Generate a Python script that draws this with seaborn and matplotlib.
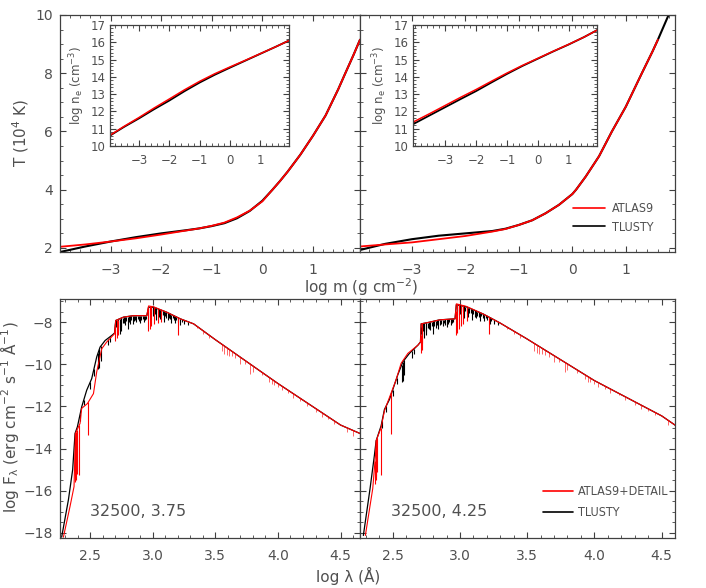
import matplotlib
matplotlib.use("Agg")
import matplotlib.pyplot as plt
import numpy as np
import pandas as pd
import seaborn as sns
from matplotlib.ticker import MultipleLocator, FixedLocator, FormatStrFormatter

# --- temperature structure, log g = 3.75 (left) ---
logm_l = [-4.0, -3.5, -3.0, -2.5, -2.0, -1.5, -1.25, -1.0, -0.75, -0.5, -0.25, 0.0, 0.2, 0.35, 0.5, 0.75,
          1.0, 1.25, 1.5, 1.64, 1.8, 1.93]
T_tl_l = [1.86, 2.05, 2.22, 2.37, 2.50, 2.61, 2.67, 2.75, 2.85, 3.02, 3.27, 3.62, 4.0, 4.3, 4.62, 5.2,
          5.85, 6.55, 7.45, 8.0, 8.62, 9.15]
T_at_l = [2.04, 2.12, 2.22, 2.33, 2.46, 2.60, 2.67, 2.76, 2.87, 3.05, 3.28, 3.60, 4.0, 4.3, 4.62, 5.2,
          5.85, 6.55, 7.45, 8.0, 8.62, 9.15]
# --- temperature structure, log g = 4.25 (right) ---
logm_r = [-3.97, -3.5, -3.0, -2.5, -2.0, -1.5, -1.25, -1.0, -0.75, -0.5, -0.25, 0.0, 0.07, 0.25, 0.5, 0.74,
          1.0, 1.3, 1.5, 1.6, 1.8, 1.92]
T_tl_r = [1.93, 2.14, 2.30, 2.42, 2.50, 2.58, 2.66, 2.79, 2.95, 3.19, 3.48, 3.85, 4.0, 4.45, 5.15, 6.0,
          6.85, 8.0, 8.75, 9.15, 10.0, 10.5]
T_at_r = [2.05, 2.12, 2.19, 2.30, 2.41, 2.56, 2.65, 2.79, 2.95, 3.19, 3.48, 3.85, 4.0, 4.45, 5.15, 6.0,
          6.85, 8.0, 8.75, 9.15]

# --- electron density insets ---
ne_m_l = [-3.96, -3.5, -3.0, -2.5, -2.0, -1.5, -1.0, -0.5, 0.0, 0.5, 1.0, 1.5, 1.95]
ne_tl_l = [10.6, 11.1, 11.6, 12.13, 12.63, 13.17, 13.67, 14.12, 14.53, 14.93, 15.33, 15.73, 16.1]
ne_at_l = [10.62, 11.13, 11.65, 12.2, 12.72, 13.25, 13.74, 14.18, 14.57, 14.95, 15.34, 15.73, 16.1]
ne_m_r = [-4.05, -3.5, -3.0, -2.5, -2.0, -1.5, -1.0, -0.5, 0.0, 0.5, 1.0, 1.5, 1.92]
ne_tl_r = [11.26, 11.78, 12.25, 12.72, 13.18, 13.68, 14.17, 14.63, 15.05, 15.47, 15.87, 16.3, 16.7]
ne_at_r = [11.38, 11.88, 12.35, 12.82, 13.27, 13.75, 14.22, 14.66, 15.07, 15.48, 15.88, 16.3, 16.7]

# --- SEDs, 32500 / 3.75 ---
wl_tl_l = [2.273, 2.327, 2.361, 2.38, 2.399, 2.433, 2.473, 2.513, 2.553, 2.58, 2.62, 2.673, 2.695, 2.705,
           2.767, 2.847, 2.953, 2.967, 3.007, 3.113, 3.22, 3.327, 3.5, 4.0, 4.5, 4.655]
fl_tl_l = [-18.2, -16.43, -15.0, -13.28, -12.96, -12.02, -11.23, -10.68, -9.65, -9.18, -8.87, -8.63, -8.52, -7.92,
           -7.76, -7.69, -7.69, -7.29, -7.29, -7.53, -7.84, -8.08, -8.83, -10.91, -12.88, -13.28]
wl_at_l = [2.287, 2.34, 2.372, 2.383, 2.42, 2.433, 2.479, 2.527, 2.553, 2.593, 2.633, 2.695, 2.705,
           2.767, 2.847, 2.953, 2.967, 3.007, 3.113, 3.22, 3.327, 3.5, 4.0, 4.5, 4.655]
fl_at_l = [-18.2, -16.74, -15.8, -13.28, -12.8, -12.09, -11.86, -11.39, -10.36, -9.26, -8.94, -8.55, -7.92,
           -7.76, -7.69, -7.69, -7.23, -7.27, -7.53, -7.84, -8.08, -8.83, -10.91, -12.88, -13.28]

# --- SEDs, 32500 / 4.25 ---
wl_tl_r = [2.281, 2.331, 2.363, 2.376, 2.413, 2.438, 2.475, 2.5, 2.537, 2.575, 2.624, 2.687, 2.706, 2.711,
           2.774, 2.848, 2.963, 2.973, 3.047, 3.172, 3.296, 3.495, 4.0, 4.502, 4.602]
fl_tl_r = [-18.12, -15.89, -14.33, -13.63, -12.92, -12.14, -11.67, -11.2, -10.5, -9.88, -9.48, -9.09, -8.94, -8.08,
           -8.0, -7.89, -7.84, -7.17, -7.27, -7.61, -8.03, -8.78, -10.77, -12.45, -12.89]
wl_at_r = [2.296, 2.351, 2.371, 2.376, 2.413, 2.438, 2.525, 2.562, 2.612, 2.687, 2.706, 2.711,
           2.774, 2.848, 2.963, 2.973, 3.047, 3.172, 3.296, 3.495, 4.0, 4.502, 4.602]
fl_at_r = [-18.12, -15.89, -14.33, -13.63, -13.0, -12.2, -10.73, -9.95, -9.48, -9.09, -8.94, -8.08,
           -8.0, -7.89, -7.84, -7.13, -7.25, -7.61, -8.03, -8.78, -10.77, -12.45, -12.89]

# absorption lines: position, bottom of line (log F)
lines_at_l_x = [2.383, 2.388, 2.392, 2.396, 2.414, 2.486, 2.702, 2.712, 2.722, 2.965, 2.975, 2.99, 3.01, 3.04, 3.07, 3.205]
lines_at_l_y = [-15.6, -15.5, -15.2, -15.0, -15.25, -13.36, -8.9, -8.75, -8.6, -8.4, -8.3, -8.2, -8.1, -8.05, -8.0, -8.6]
lines_at_r_x = [2.368, 2.373, 2.378, 2.383, 2.413, 2.488, 2.708, 2.714, 2.72, 2.968, 2.978, 2.99, 3.005, 3.02, 3.05, 3.216]
lines_at_r_y = [-15.66, -15.5, -15.3, -15.1, -15.27, -13.31, -9.48, -9.3, -9.0, -8.63, -8.5, -8.3, -8.2, -8.1, -7.95, -8.58]
# weak optical / IR lines in the ATLAS9+DETAIL spectra (depth in dex)
weak_x = [3.35, 3.40, 3.45, 3.55, 3.57, 3.59, 3.61, 3.63, 3.66, 3.70, 3.74, 3.78, 3.80, 3.87, 3.93, 3.95,
          3.97, 4.00, 4.03, 4.08, 4.12, 4.18, 4.23, 4.30, 4.35, 4.40, 4.45, 4.55, 4.60]
weak_d = [0.1, 0.15, 0.12, 0.35, 0.4, 0.35, 0.3, 0.25, 0.2, 0.3, 0.15, 0.45, 0.3, 0.15, 0.2, 0.25,
          0.2, 0.15, 0.2, 0.15, 0.2, 0.1, 0.15, 0.15, 0.2, 0.1, 0.15, 0.2, 0.25]
# TLUSTY line forest (position, depth in dex)
tl_lines_x = [2.42, 2.45, 2.50, 2.53, 2.565, 2.575, 2.585, 2.64, 2.66, 2.71, 2.72, 2.725, 2.735, 2.745, 2.75,
              2.76, 2.77, 2.78, 2.79, 2.80, 2.81, 2.82, 2.83, 2.84, 2.85, 2.86, 2.87, 2.88, 2.89, 2.90, 2.91,
              2.92, 2.93, 2.94, 2.95, 2.98, 2.99, 3.0, 3.01, 3.02, 3.03, 3.04, 3.05, 3.06, 3.07, 3.08, 3.09,
              3.10, 3.11, 3.12, 3.13, 3.14, 3.15, 3.16, 3.17, 3.18, 3.19, 3.20, 3.22, 3.23, 3.25, 3.28]
tl_lines_d = [0.3, 0.25, 0.3, 0.3, 0.8, 0.9, 0.7, 0.3, 0.25, 0.3, 0.5, 0.35, 0.7, 0.4, 0.6,
              0.25, 0.3, 0.4, 0.2, 0.6, 0.25, 0.35, 0.2, 0.4, 0.25, 0.2, 0.3, 0.15, 0.25, 0.35, 0.2,
              0.15, 0.3, 0.2, 0.15, 0.5, 0.3, 0.4, 0.25, 0.3, 0.55, 0.2, 0.35, 0.45, 0.25, 0.2, 0.5,
              0.2, 0.3, 0.35, 0.2, 0.25, 0.4, 0.15, 0.2, 0.3, 0.15, 0.2, 0.3, 0.15, 0.2, 0.15]

GREY = "#505050"
RED = "#ff0000"

sns.set_style("ticks")
plt.rcParams["font.family"] = ["DejaVu Sans"]
plt.rcParams.update({
    "text.color": GREY, "axes.labelcolor": GREY, "xtick.color": "#404040", "ytick.color": "#404040",
    "xtick.labelcolor": GREY, "ytick.labelcolor": GREY, "axes.edgecolor": "#404040",
    "axes.linewidth": 0.9, "font.size": 10, "mathtext.default": "regular",
})

fig = plt.figure(figsize=(7.06, 5.88), dpi=100)


def style(ax, xmaj, xmin, ymaj, ymin, size=10):
    if isinstance(xmaj, list):
        ax.xaxis.set_major_locator(FixedLocator(xmaj))
    else:
        ax.xaxis.set_major_locator(MultipleLocator(xmaj))
    ax.xaxis.set_minor_locator(MultipleLocator(xmin))
    ax.yaxis.set_major_locator(MultipleLocator(ymaj))
    ax.yaxis.set_minor_locator(MultipleLocator(ymin))
    ax.tick_params(which="both", direction="in", top=True, right=True, labelsize=size)
    ax.tick_params(which="major", length=4, width=0.8)
    ax.tick_params(axis="x", which="major", pad=8)
    ax.tick_params(axis="y", which="major", pad=5)
    ax.tick_params(which="minor", length=2, width=0.6)
    ax.set_xlabel("")
    ax.set_ylabel("")


def line(ax, x, y, color, lw):
    sns.lineplot(x=x, y=y, ax=ax, color=color, lw=lw, sort=False, estimator=None)


logm_ticks = [-3, -2, -1, 0, 1]
leg_font = {"family": "DejaVu Sans", "stretch": "condensed", "size": 9}

# top panels
ax_tl = fig.add_axes([0.085, 0.5714, 0.4249, 0.4031])
ax_tr = fig.add_axes([0.5099, 0.5714, 0.4462, 0.4031])
for ax, m, tl, at, xl in [(ax_tl, logm_l, T_tl_l, T_at_l, (-4.0, 1.93)),
                          (ax_tr, logm_r, T_tl_r, T_at_r, (-3.97, 1.92))]:
    line(ax, m, tl, "black", 1.5)
    line(ax, m[:len(at)], at, RED, 1.3)
    ax.set_xlim(*xl)
    ax.set_ylim(1.86, 10)
    style(ax, logm_ticks, 0.2, 2, 0.5)
ax_tr.tick_params(labelleft=False)

ax_tr.plot([], [], color=RED, lw=1.2, label="ATLAS9")
ax_tr.plot([], [], color="black", lw=1.2, label="TLUSTY")
ax_tr.legend(loc="upper left", bbox_to_anchor=(0.676, 0.21), frameon=False, borderpad=0, borderaxespad=0,
             handlelength=2.6, handletextpad=0.5, labelspacing=0.45, prop=leg_font, labelcolor=GREY)

# insets
in_l = fig.add_axes([0.1558, 0.7517, 0.2535, 0.2058])
in_r = fig.add_axes([0.585, 0.7517, 0.2606, 0.2058])
for ax, m, tl, at, xl in [(in_l, ne_m_l, ne_tl_l, ne_at_l, (-3.96, 1.95)),
                          (in_r, ne_m_r, ne_tl_r, ne_at_r, (-4.05, 1.92))]:
    line(ax, m, tl, "black", 1.3)
    line(ax, m, at, RED, 1.1)
    ax.set_xlim(*xl)
    ax.set_ylim(10, 17)
    style(ax, logm_ticks, 0.2, 1, 0.2, size=8.5)
    ax.tick_params(axis="x", which="major", pad=6)
    ax.tick_params(axis="y", which="major", pad=3)
    ax.set_ylabel("log n$_e$ (cm$^{-3}$)", fontsize=8.5, labelpad=3)

# SED panels
ax_bl = fig.add_axes([0.085, 0.085, 0.4249, 0.4065])
ax_br = fig.add_axes([0.5099, 0.085, 0.4462, 0.4065])
for ax, wt, ft, wa, fa, lx, ly, xr, lab in [
        (ax_bl, wl_tl_l, fl_tl_l, wl_at_l, fl_at_l, lines_at_l_x, lines_at_l_y, (2.26, 4.655), "32500, 3.75"),
        (ax_br, wl_tl_r, fl_tl_r, wl_at_r, fl_at_r, lines_at_r_x, lines_at_r_y, (2.256, 4.6), "32500, 4.25")]:
    tx = np.array(tl_lines_x)
    ttop = np.interp(tx, wt, ft)
    ax.vlines(tx, ttop - np.array(tl_lines_d), ttop, color="black", lw=0.8)
    line(ax, wt, ft, "black", 0.9)
    line(ax, wa, fa, RED, 0.8)
    ax.vlines(lx, ly, np.interp(lx, wa, fa), color=RED, lw=0.8)
    wx = np.array(weak_x)
    wtop = np.interp(wx, wa, fa)
    ax.vlines(wx, wtop - np.array(weak_d), wtop, color=RED, lw=0.7, alpha=0.6)
    ax.set_xlim(*xr)
    ax.set_ylim(-18.24, -6.9)
    style(ax, 0.5, 0.1, 2, 0.5)
    ax.xaxis.set_major_formatter(FormatStrFormatter("%.1f"))
    ax.text(0.1, 0.109, lab, transform=ax.transAxes, fontsize=11.5, color=GREY, va="center")
ax_br.tick_params(labelleft=False)

ax_br.plot([], [], color=RED, lw=1.2, label="ATLAS9+DETAIL")
ax_br.plot([], [], color="black", lw=1.2, label="TLUSTY")
ax_br.legend(loc="upper left", bbox_to_anchor=(0.58, 0.22), frameon=False, borderpad=0, borderaxespad=0,
             handlelength=2.4, handletextpad=0.4, labelspacing=0.6, prop=leg_font, labelcolor=GREY)

# axis titles
fig.text(21 / 706, 1 - 133 / 588, "T (10$^4$ K)", rotation=90, ha="center", va="center", fontsize=11)
fig.text(361 / 706, 1 - 287 / 588, "log m (g cm$^{-2}$)", ha="center", va="center", fontsize=11)
fig.text(10 / 706, 1 - 417 / 588, "log F$_\\lambda$ (erg cm$^{-2}$ s$^{-1}$ Å$^{-1}$)", rotation=90,
         ha="center", va="center", fontsize=11)
fig.text(348 / 706, 1 - 576 / 588, "log λ (Å)", ha="center", va="center", fontsize=11)

fig.savefig("out.png", dpi=100)
